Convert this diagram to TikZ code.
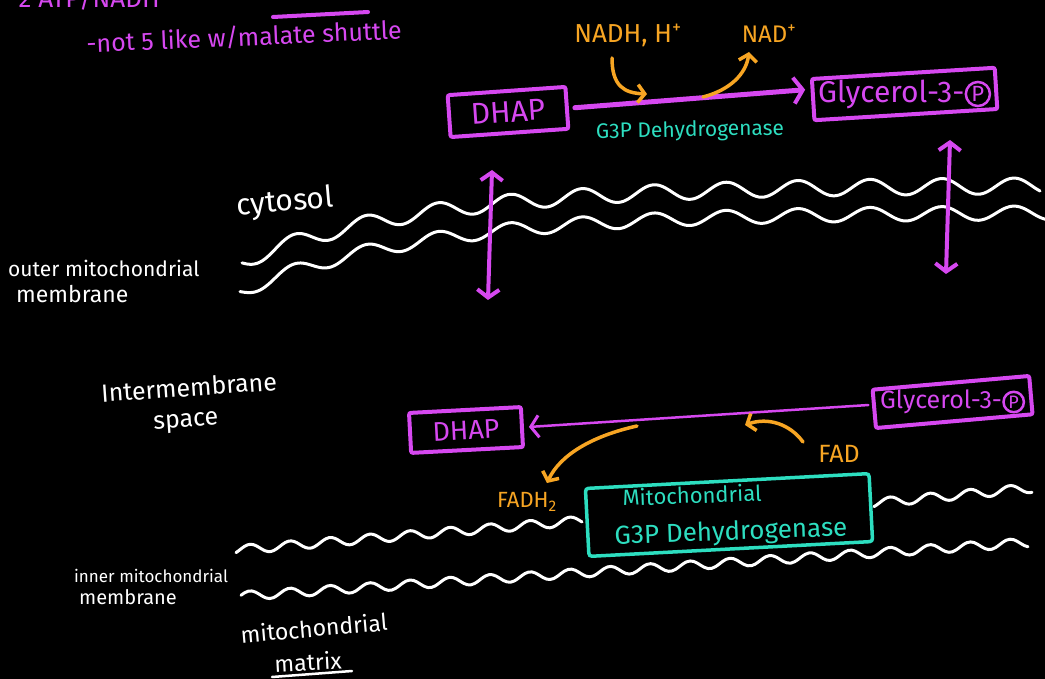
\documentclass[tikz,border=0pt]{standalone}
\usepackage{fontspec}
\setmainfont{Fira Sans}
\usetikzlibrary{arrows.meta,fit}
\definecolor{mag}{RGB}{214,72,240}
\definecolor{org}{RGB}{247,165,35}
\definecolor{enz}{RGB}{45,222,192}
\newcommand{\fs}[1]{\fontsize{#1}{#1}\selectfont}
\begin{document}
\begin{tikzpicture}[x=1pt,y=-1pt,
  memb/.style={white, line width=3pt, line cap=round, line join=round},
  mbox/.style={draw=mag, line width=4pt, rounded corners=2pt, text=mag, inner sep=0pt},
  ebox/.style={draw=enz, line width=3.5pt, rounded corners=3pt, inner sep=0pt},
  lab/.style={text=white, inner sep=0pt},
  mlab/.style={text=mag, inner sep=0pt},
  olab/.style={text=org, inner sep=0pt},
  elab/.style={text=enz, inner sep=0pt},
  circp/.style={circle, draw=mag, line width=2.5pt, text=mag, inner sep=1.5pt},
  bigarrow/.style={mag, line width=5pt, line cap=round,
    -{Straight Barb[length=9pt,width=26pt,line width=4pt]}},
  duoarrow/.style={mag, line width=4pt, line cap=round,
    {Straight Barb[length=8pt,width=22pt,line width=4pt]}-{Straight Barb[length=8pt,width=22pt,line width=4pt]}},
  thinarrow/.style={mag, line width=2.5pt, line cap=round,
    -{Straight Barb[length=8pt,width=22pt,line width=3pt]}},
  oarrow/.style={org, line width=3.5pt, line cap=round,
    -{Straight Barb[length=7pt,width=18pt,line width=3.5pt]}}]

% background and frame
\fill[black] (0,0) rectangle (1045,679);
\useasboundingbox (0,0) rectangle (1045,679);
\clip (0,0) rectangle (1045,679);

% heading, mostly above the frame
\node[mlab, anchor=base west, font=\fs{26}] (head) at (0,8) {* 2 ATP/NADH};
\draw[mag, line width=4pt, line cap=round] (273,17) -- (368,12);
\node[mlab, font=\fs{25}, rotate=2.5] (note) at (244,37) {-not 5 like w/malate shuttle};

% outer mitochondrial membrane
\draw[memb] plot[smooth, domain=242:1040, samples=160]
  (\x,{185+70*exp(-(\x-258)/180)-8*sin(5*(\x+12))});
\draw[memb] plot[smooth, domain=240:1045, samples=160]
  (\x,{212+72*exp(-(\x-258)/180)-7*sin(5*(\x+12))});

% inner mitochondrial membrane
\draw[memb] plot[smooth, domain=236:582, samples=120]
  (\x,{550-(\x-236)*0.085-4.5*sin(9*\x)});
\draw[memb] plot[smooth, domain=874:1032, samples=60]
  (\x,{503-(\x-874)*0.095-4.5*sin(9*\x)});
\draw[memb] plot[smooth, domain=241:1028, samples=220]
  (\x,{596-(\x-241)*0.068-4.5*sin(9*\x)});

% cytosolic reaction
\node[mbox, rotate=4, minimum width=118pt, minimum height=42pt, font=\fs{30}] (dhapc) at (508,112) {DHAP};
\node[mlab, font=\fs{30}, anchor=west] (g3pc) at (818,94) {Glycerol-3-};
\node[circp, font=\fs{22}, anchor=west] (pc) at (g3pc.east) {P};
\node[mbox, rotate=3.5, fit=(g3pc)(pc), inner xsep=5pt, inner ysep=6pt] (g3pcbox) {};
\draw[bigarrow] ([xshift=6pt]dhapc.east) -- ([xshift=-6pt,yshift=10pt]g3pcbox.west);
\node[elab, font=\fs{21}, rotate=1] (enzc) at (690,131) {G3P Dehydrogenase};
\node[olab, font=\fs{26}] (nadh) at (628,35) {NADH, H\textsuperscript{+}};
\node[olab, font=\fs{24}] (nad) at (769,34) {NAD\textsuperscript{+}};
\coordinate (nadhin) at (647,94);
\coordinate (nadout) at (703,97);
\draw[oarrow] (612,58) .. controls (612,86) and (624,93) .. (nadhin);
\draw[oarrow] (nadout) .. controls (730,90) and (746,74) .. (749,52);

% transport through the outer membrane
\coordinate (lt) at (492,170);
\coordinate (lb) at (488,300);
\coordinate (rt) at (950,140);
\coordinate (rb) at (946,274);
\draw[duoarrow] (lt) -- (lb);
\draw[duoarrow] (rt) -- (rb);

% membrane and space labels
\node[lab, font=\fs{30}, rotate=5] (cyt) at (285,203) {cytosol};
\node[lab, font=\fs{21}, anchor=west] (oml1) at (8,268) {outer mitochondrial};
\node[lab, font=\fs{23}, anchor=west] (oml2) at (16,294) {membrane};
\node[lab, font=\fs{25}, rotate=4] (ims1) at (189,387) {Intermembrane};
\node[lab, font=\fs{25}, rotate=4] (ims2) at (186,423) {space};
\node[lab, font=\fs{17}, anchor=west] (iml1) at (74,576) {inner mitochondrial};
\node[lab, font=\fs{20}, anchor=west] (iml2) at (79,597) {membrane};
\node[lab, font=\fs{23}, rotate=5] (mat1) at (314,628) {mitochondrial};
\node[lab, font=\fs{23}, rotate=3] (mat2) at (308,662) {matrix};
\draw[white, line width=2.5pt, line cap=round] (272,677) -- (352,671);

% mitochondrial reaction
\node[mlab, font=\fs{25}, anchor=west] (g3pm) at (880,402) {Glycerol-3-};
\node[circp, font=\fs{18}, anchor=west] (pm) at (g3pm.east) {P};
\node[mbox, rotate=5, fit=(g3pm)(pm), inner xsep=6pt, inner ysep=7pt] (g3pmbox) {};
\node[mbox, rotate=3, minimum width=112pt, minimum height=40pt, font=\fs{27}] (dhapm) at (466,430) {DHAP};
\draw[thinarrow] ([xshift=-4pt,yshift=4pt]g3pmbox.west) -- ([xshift=5pt]dhapm.east);
\node[ebox, rotate=3, minimum width=284pt, minimum height=68pt] (mgpd) at (729,515) {};
\node[elab, font=\fs{22}, rotate=2] (mgpd1) at (692,495) {Mitochondrial};
\node[elab, font=\fs{26}, rotate=2] (mgpd2) at (731,533) {G3P Dehydrogenase};
\node[olab, font=\fs{25}] (fad) at (839,454) {FAD};
\node[olab, font=\fs{22}] (fadh) at (527,502) {FADH\textsubscript{2}};
\coordinate (fadin) at (803,442);
\coordinate (fadhout) at (637,426);
\draw[oarrow] (fadin) .. controls (790,424) and (768,417) .. (745,425);
\draw[oarrow] (fadhout) .. controls (592,436) and (560,455) .. (547,483);
\end{tikzpicture}
\end{document}
